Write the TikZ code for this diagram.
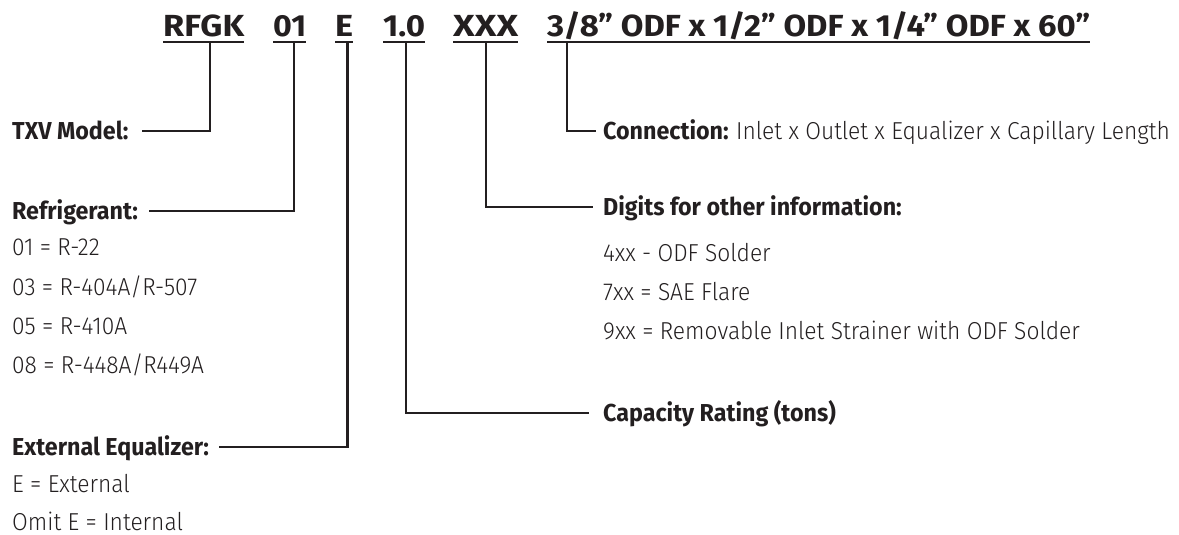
\documentclass[tikz,border=0pt]{standalone}
\usepackage{fontspec}
\usepackage{graphicx}
\setmainfont{Fira Sans}
\IfFontExistsTF{Fira Sans Light}{\newfontfamily\lightf{Fira Sans Light}[FakeStretch=0.93]}{\newfontfamily\lightf{Fira Sans}[FakeStretch=0.93]}
\newfontfamily\boldf{Fira Sans}[FakeStretch=0.95]
\usetikzlibrary{calc}
\definecolor{ink}{HTML}{231F20}
\newcommand{\hdrtxt}[2]{\resizebox{#1pt}{\height}{\fontsize{30.5}{34}\selectfont\bfseries #2}}
\begin{document}
\begin{tikzpicture}[x=1pt,y=-1pt,
  hdr/.style={inner sep=0pt, anchor=base west, text=ink},
  lbl/.style={inner sep=0pt, anchor=west, text=ink, font=\boldf\bfseries\fontsize{24.5}{28}\selectfont, text height=17pt, text depth=0pt},
  itm/.style={inner sep=0pt, anchor=base west, text=ink, font=\lightf\fontsize{24.5}{28}\selectfont},
  ln/.style={line width=2.8pt, draw=ink},
  uln/.style={line width=1.8pt, draw=ink}]
\useasboundingbox (0,0) rectangle (1179,535);
% header
\node[hdr] (h1) at (163,37) {\hdrtxt{81}{RFGK}};
\node[hdr] (h2) at (273,37) {\hdrtxt{33}{01}};
\node[hdr] (h3) at (335,37) {\hdrtxt{18}{E}};
\node[hdr] (h4) at (383,37) {\hdrtxt{42}{1.0}};
\node[hdr] (h5) at (453,37) {\hdrtxt{65}{XXX}};
\node[hdr] (h6) at (547,37) {\hdrtxt{543}{3/8” ODF x 1/2” ODF x 1/4” ODF x 60”}};
\foreach \n in {h1,h2,h3,h4,h5,h6}
  \draw[uln] ($(\n.base west)+(0,5)$) -- ($(\n.base east)+(0,5)$);
\coordinate (v1) at (210,42);
\coordinate (v2) at (294,42);
\coordinate (v3) at (347.5,42);
\coordinate (v4) at (406,42);
\coordinate (v5) at (486,42);
\coordinate (v6) at (567,42);
% left labels
\node[lbl] (txv) at (12,131) {TXV Model:};
\node[lbl] (ref) at (12,211) {Refrigerant:};
\node[itm] (r1) at (12,255) {01 = R-22};
\node[itm] (r2) at (12,295) {03 = R-404A/R-507};
\node[itm] (r3) at (12,334) {05 = R-410A};
\node[itm] (r4) at (12,373) {08 = R-448A/R449A};
\node[lbl] (ext) at (12,447) {External Equalizer:};
\node[itm] (e1) at (12,492) {E = External};
\node[itm] (e2) at (12,530) {Omit E = Internal};
% right labels
\node[lbl] (con) at (603,131) {Connection: {\lightf\mdseries Inlet x Outlet x Equalizer x Capillary Length}};
\node[lbl] (dig) at (603,207) {Digits for other information:};
\node[itm] (d1) at (603,261) {4xx - ODF Solder};
\node[itm] (d2) at (603,300) {7xx = SAE Flare};
\node[itm] (d3) at (603,339) {9xx = Removable Inlet Strainer with ODF Solder};
\node[lbl] (cap) at (603,413) {Capacity Rating (tons)};
% connectors
\draw[ln] (v1) |- ($(txv.east)+(13,0)$);
\draw[ln] (v2) |- ($(ref.east)+(11,0)$);
\draw[ln] (v3) |- ($(ext.east)+(10,0)$);
\draw[ln] (v4) |- ($(cap.west)+(-14,0)$);
\draw[ln] (v5) |- ($(dig.west)+(-10,0)$);
\draw[ln] (v6) |- ($(con.west)+(-7,0)$);
\end{tikzpicture}
\end{document}
